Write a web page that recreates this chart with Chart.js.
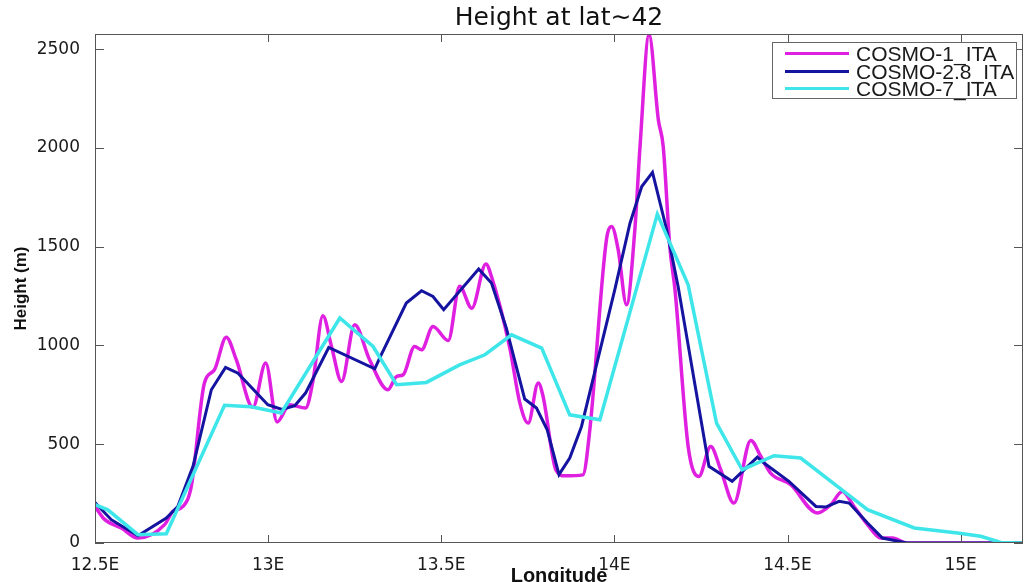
<!DOCTYPE html>
<html>
<head>
<meta charset="utf-8">
<title>Height at lat~42</title>
<script src="https://cdn.jsdelivr.net/npm/chart.js@4.4.1/dist/chart.umd.min.js"></script>
<style>
    html, body { margin: 0; padding: 0; background: #fff; }
    #wrap { position: relative; width: 1024px; height: 582px; overflow: hidden; }
    #legend {
        position: absolute; left: 772px; top: 42px; width: 243px; height: 53px;
        border: 1px solid #666; background: #fff; padding-top: 2px;
        font-family: "Liberation Sans", Arial, sans-serif; font-size: 21px; color: #1a1a1a;
    }
    .legend-row { display: flex; align-items: center; height: 17.5px; line-height: 17.5px; white-space: nowrap; }
    .legend-line { width: 64px; height: 3px; margin-left: 12px; margin-right: 7px; }
</style>
</head>
<body>
<div id="wrap">
    <canvas id="heightChart" width="1024" height="582"></canvas>
    <div id="legend"></div>
</div>
<script>
// longitude ticks and height ticks
const xTickVals = [12.5, 13, 13.5, 14, 14.5, 15];
const yTickVals = [0, 500, 1000, 1500, 2000, 2500];

// COSMO-1_ITA
const c1Lon = [12.5, 12.527, 12.576, 12.624, 12.701, 12.725, 12.754, 12.778, 12.816, 12.845, 12.879, 12.908,
    12.956, 12.993, 13.026, 13.062, 13.108, 13.13, 13.158, 13.183, 13.212, 13.25, 13.293, 13.346, 13.371, 13.39,
    13.423, 13.443, 13.476, 13.52, 13.553, 13.588, 13.629, 13.645, 13.698, 13.727, 13.751, 13.78, 13.794, 13.831,
    13.857, 13.909, 13.929, 13.977, 13.992, 14.011, 14.035, 14.059, 14.074, 14.1, 14.127, 14.141, 14.16, 14.175,
    14.213, 14.244, 14.278, 14.307, 14.345, 14.394, 14.423, 14.451, 14.509, 14.586, 14.625, 14.658, 14.692, 14.731,
    14.769, 14.803, 14.845, 15.18];
const c1Height = [185, 121, 76, 25, 93, 160, 185, 286, 810, 877, 1042, 928,
    687, 911, 613, 700, 683, 826, 1150, 995, 818, 1105, 928, 776, 843, 852,
    995, 978, 1096, 1025, 1300, 1189, 1413, 1349, 987, 708, 607, 810, 742, 370,
    340, 345, 573, 1535, 1602, 1484, 1206, 1586, 2007, 2572, 2142, 2007, 1501, 1282,
    489, 337, 489, 371, 202, 519, 438, 354, 295, 152, 194, 261, 185, 93,
    25, 25, 0, 0];

// COSMO-2.8_ITA
const c28Lon = [12.5, 12.547, 12.624, 12.706, 12.739, 12.783, 12.836, 12.877, 12.913, 12.999, 13.04, 13.077,
    13.108, 13.175, 13.308, 13.322, 13.399, 13.443, 13.476, 13.507, 13.608, 13.645, 13.688, 13.741, 13.775, 13.806,
    13.84, 13.871, 13.905, 14.001, 14.045, 14.079, 14.11, 14.151, 14.184, 14.273, 14.34, 14.413, 14.432, 14.504,
    14.582, 14.61, 14.649, 14.678, 14.731, 14.774, 14.845, 15.18];
const c28Height = [205, 118, 37, 126, 185, 388, 776, 889, 860, 700, 676, 695,
    759, 990, 882, 936, 1215, 1277, 1248, 1181, 1387, 1316, 1088, 729, 683, 573,
    346, 430, 590, 1282, 1619, 1805, 1876, 1586, 1299, 388, 312, 435, 405, 312,
    185, 182, 211, 202, 101, 25, 0, 0];

// COSMO-7_ITA
const c7Lon = [12.5, 12.537, 12.624, 12.706, 12.874, 12.951, 13.038, 13.207, 13.303, 13.371, 13.457, 13.553,
    13.626, 13.703, 13.79, 13.871, 13.958, 14.124, 14.213, 14.295, 14.369, 14.461, 14.538, 14.644, 14.731, 14.866,
    14.991, 15.058, 15.116, 15.18];
const c7Height = [194, 168, 42, 47, 697, 690, 658, 1139, 995, 801, 813, 902,
    953, 1054, 987, 649, 624, 1665, 1307, 607, 371, 442, 430, 287, 169, 76,
    51, 34, 3, 0];

const toPoints = (lons, heights) => lons.map((lon, i) => ({ x: lon, y: heights[i] }));

const framePlugin = {
    id: 'frame',
    afterDatasetsDraw(chart) {
        const { ctx, chartArea: a, scales: { x, y } } = chart;
        ctx.save();
        ctx.strokeStyle = '#555';
        ctx.lineWidth = 1;
        ctx.strokeRect(a.left + 0.5, a.top + 0.5, a.width - 1, a.height - 1);
        ctx.beginPath();
        xTickVals.forEach(v => {
            const px = Math.round(x.getPixelForValue(v)) + 0.5;
            ctx.moveTo(px, a.bottom); ctx.lineTo(px, a.bottom - 8);
            ctx.moveTo(px, a.top); ctx.lineTo(px, a.top + 8);
        });
        yTickVals.forEach(v => {
            const py = Math.round(y.getPixelForValue(v)) + 0.5;
            ctx.moveTo(a.left, py); ctx.lineTo(a.left + 9, py);
            ctx.moveTo(a.right, py); ctx.lineTo(a.right - 9, py);
        });
        ctx.stroke();
        ctx.restore();
    }
};

const tickFont = { family: 'DejaVu Sans', size: 17 };

const chart = new Chart(document.getElementById('heightChart'), {
    type: 'line',
    data: {
        datasets: [
            {
                label: 'COSMO-1_ITA',
                data: toPoints(c1Lon, c1Height),
                borderColor: '#e020e0',
                borderWidth: 3.5,
                cubicInterpolationMode: 'monotone',
                order: 2
            },
            {
                label: 'COSMO-2.8_ITA',
                data: toPoints(c28Lon, c28Height),
                borderColor: '#1414a0',
                borderWidth: 3,
                tension: 0,
                order: 1
            },
            {
                label: 'COSMO-7_ITA',
                data: toPoints(c7Lon, c7Height),
                borderColor: '#3ee6ea',
                borderWidth: 3.5,
                tension: 0,
                order: 0
            }
        ]
    },
    options: {
        responsive: false,
        animation: false,
        events: [],
        layout: { padding: { left: 0, right: 1, top: 0, bottom: 0 } },
        elements: { point: { radius: 0 } },
        plugins: {
            legend: { display: false },
            tooltip: { enabled: false },
            title: {
                display: true,
                text: 'Height at lat\u223C42',
                fullSize: false,
                color: '#111',
                font: { family: 'DejaVu Sans', size: 25, weight: 'normal' },
                padding: { top: 3, bottom: 1 }
            }
        },
        scales: {
            x: {
                type: 'linear',
                min: 12.5,
                max: 15.18,
                afterBuildTicks: scale => { scale.ticks = xTickVals.map(v => ({ value: v })); },
                afterFit: scale => { scale.height = 39; },
                grid: { display: false },
                border: { display: false },
                ticks: {
                    autoSkip: false, maxRotation: 0, padding: 4,
                    color: '#1a1a1a', font: tickFont,
                    callback: v => v + 'E'
                },
                title: {
                    display: true, text: 'Longitude', color: '#111',
                    font: { family: 'Liberation Sans', size: 20, weight: 'bold', lineHeight: 0.6 },
                    padding: 0
                }
            },
            y: {
                min: 0,
                max: 2577,
                afterBuildTicks: scale => { scale.ticks = yTickVals.map(v => ({ value: v })); },
                afterFit: scale => { scale.width = 95; },
                grid: { display: false },
                border: { display: false },
                ticks: { padding: 7, color: '#1a1a1a', font: tickFont, callback: v => v },
                title: {
                    display: true, text: 'Height (m)', color: '#111',
                    font: { family: 'Liberation Sans', size: 17, weight: 'bold' },
                    padding: { top: 11, bottom: 0 }
                }
            }
        }
    },
    plugins: [framePlugin]
});

// legend inside the axes, built from the datasets
const legendEl = document.getElementById('legend');
chart.data.datasets.forEach(ds => {
    const row = document.createElement('div');
    row.className = 'legend-row';
    const line = document.createElement('span');
    line.className = 'legend-line';
    line.style.background = ds.borderColor;
    const label = document.createElement('span');
    label.textContent = ds.label;
    row.appendChild(line);
    row.appendChild(label);
    legendEl.appendChild(row);
});
</script>
</body>
</html>
